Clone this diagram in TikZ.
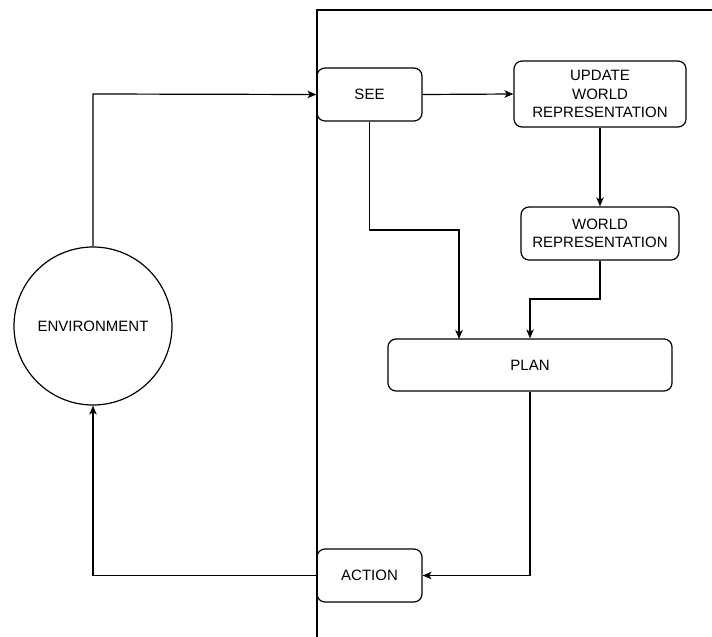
\documentclass[tikz,border=0pt]{standalone}
\usepackage{fontspec}
\setmainfont{Liberation Sans}
\usetikzlibrary{arrows.meta}
\begin{document}
\begin{tikzpicture}[x=1pt,y=-1pt,
  every node/.style={font=\fontsize{15}{18.5}\selectfont, align=center, inner sep=0pt},
  box/.style={draw, line width=1.2pt, rounded corners=8pt},
  flow/.style={draw, line width=1.2pt, -{Stealth[length=9pt,width=7.5pt,inset=2.5pt]}}]
  \useasboundingbox (0,0) rectangle (712,637);
  % agent frame
  \draw[line width=1.2pt] (712,10) -- (317,10) -- (317,637);
  % nodes
  \node[box, minimum width=105pt, minimum height=53pt] (see) at (369.5,94.5) {SEE};
  \node[box, minimum width=172pt, minimum height=66pt] (upd) at (600,94) {UPDATE\\WORLD\\REPRESENTATION};
  \node[box, minimum width=158pt, minimum height=53pt] (wr) at (600,233.5) {WORLD\\REPRESENTATION};
  \node[box, minimum width=284pt, minimum height=52pt] (plan) at (530,365) {PLAN};
  \node[box, minimum width=105pt, minimum height=53pt] (act) at (369.5,575.5) {ACTION};
  \node[draw, circle, line width=1.2pt, minimum size=158pt] (env) at (93,326) {ENVIRONMENT};
  % connectors
  \draw[flow] (env.north) -- (93,94) -- (see.west);
  \draw[flow] (see.east) -- (upd.west);
  \draw[flow] (upd.south) -- (wr.north);
  \draw[flow] (see.south) -- (369.5,230) -- (459,230) -- (459,339);
  \draw[flow] (wr.south) -- (600,299) -- (530,299) -- (plan.north);
  \draw[flow] (plan.south) -- (530,575.5) -- (act.east);
  \draw[flow] (act.west) -- (93,575.5) -- (env.south);
\end{tikzpicture}
\end{document}
